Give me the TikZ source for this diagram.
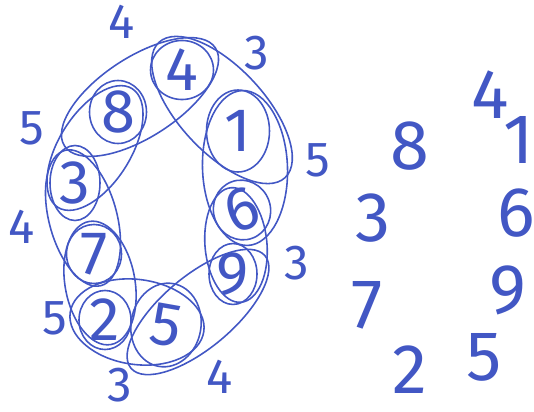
\documentclass[tikz,border=0pt]{standalone}
\usepackage{fontspec}
\setmainfont{Fira Sans}
\usetikzlibrary{shapes.geometric}
\definecolor{cink}{HTML}{4257C4}
\tikzset{
  every picture/.style={line width=0.9pt},
  circ/.style={draw=cink, ellipse, text=cink, inner sep=0pt, font=\fontsize{35}{40}\selectfont},
  pair/.style={draw=cink, ellipse, inner sep=0pt},
  gap/.style={text=cink, inner sep=1pt, font=\fontsize{28}{32}\selectfont},
  free/.style={text=cink, inner sep=1pt, font=\fontsize{40}{44}\selectfont},
}

\begin{document}
\begin{tikzpicture}[x=0.02cm, y=-0.02cm]
  \useasboundingbox (0,0) rectangle (534,412);
  \node[circ, minimum width=1.26cm, minimum height=1.08cm] (n4) at (182,70) {4};
  \node[circ, minimum width=1.26cm, minimum height=1.64cm] (n1) at (238,131) {1};
  \node[circ, minimum width=1.14cm, minimum height=0.92cm, rotate=20] (n6) at (242,210) {6};
  \node[circ, minimum width=0.96cm, minimum height=1.2cm] (n9) at (233,274) {9};
  \node[circ, minimum width=1.4cm, minimum height=1.68cm, rotate=-10] (n5) at (166,325) {5};
  \node[circ, minimum width=1.04cm, minimum height=1.16cm] (n2) at (105,320) {2};
  \node[circ, minimum width=1.1cm, minimum height=1.1cm] (n7) at (94,254) {7};
  \node[circ, minimum width=1.0cm, minimum height=1.5cm] (n3) at (75,183) {3};
  \node[circ, minimum width=1.14cm, minimum height=1.26cm] (n8) at (118,112) {8};
  \node[pair, minimum width=3.6cm, minimum height=1.6cm, rotate=33] (p84) at (140,97) {};
  \node[pair, minimum width=3.7cm, minimum height=1.7cm, rotate=-47] (p41) at (222,110) {};
  \node[pair, minimum width=3.1cm, minimum height=1.7cm, rotate=-88] (p16) at (245,168) {};
  \node[pair, minimum width=2.3cm, minimum height=1.24cm, rotate=95] (p69) at (236,245) {};
  \node[pair, minimum width=3.5cm, minimum height=1.44cm, rotate=40] (p95) at (198,312) {};
  \node[pair, minimum width=2.7cm, minimum height=1.7cm, rotate=-8] (p52) at (137,322) {};
  \node[pair, minimum width=2.5cm, minimum height=1.4cm, rotate=100] (p27) at (100,283) {};
  \node[pair, minimum width=2.8cm, minimum height=1.36cm, rotate=105] (p73) at (83,218) {};
  \node[pair, minimum width=2.8cm, minimum height=1.44cm, rotate=58] (p38) at (95,148) {};
  \node[gap] (g84) at (122,22) {4};
  \node[gap] (g41) at (257,53) {3};
  \node[gap] (g16) at (318,160) {5};
  \node[gap] (g69) at (297,263) {3};
  \node[gap] (g95) at (220,377) {4};
  \node[gap] (g52) at (120,385) {3};
  \node[gap] (g27) at (55,318) {5};
  \node[gap] (g73) at (22,227) {4};
  \node[gap] (g38) at (32,128) {5};
  \node[free] (f4) at (490,95) {4};
  \node[free] (f1) at (519,140) {1};
  \node[free] (f6) at (516,213) {6};
  \node[free] (f9) at (508,290) {9};
  \node[free] (f5) at (484,357) {5};
  \node[free] (f2) at (410,370) {2};
  \node[free] (f7) at (367,305) {7};
  \node[free] (f3) at (373,218) {3};
  \node[free] (f8) at (410,146) {8};
\end{tikzpicture}
\end{document}
